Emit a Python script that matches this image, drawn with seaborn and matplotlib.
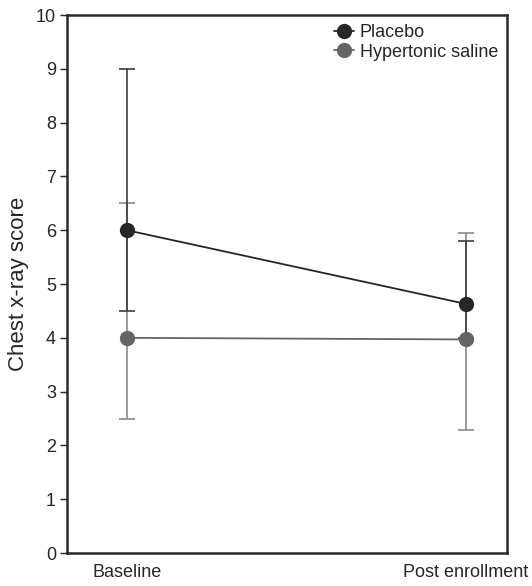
import pandas as pd
import numpy as np
import matplotlib
matplotlib.use('Agg')
import matplotlib.pyplot as plt
import seaborn as sns

# --- Data ---
timepoints = ['Baseline', 'Post enrollment']
groups = ['Placebo', 'Hypertonic saline']

placebo_mean = [6.0, 4.63]
placebo_low = [4.5, 4.0]
placebo_high = [9.0, 5.80]

saline_mean = [4.0, 3.97]
saline_low = [2.5, 2.28]
saline_high = [6.5, 5.95]

COLORS = {'Placebo': '#262626', 'Hypertonic saline': '#646464'}
ERR_COLORS = {'Placebo': '#3c3c3c', 'Hypertonic saline': '#8a8a8a'}

sns.set_theme(style='white')
plt.rcParams['font.family'] = ['Liberation Sans', 'DejaVu Sans']

df = pd.DataFrame({
    'time': [0, 1, 0, 1],
    'score': placebo_mean + saline_mean,
    'group': [groups[0]] * 2 + [groups[1]] * 2,
})

fig = plt.figure(figsize=(5.32, 5.86), dpi=100)
ax = fig.add_axes([0.126, 0.0563, 0.827, 0.918])

# error bars first so the markers sit on top
err = {
    'Placebo': (placebo_mean, placebo_low, placebo_high),
    'Hypertonic saline': (saline_mean, saline_low, saline_high),
}
for g in ['Hypertonic saline', 'Placebo']:
    m, lo, hi = (np.array(v) for v in err[g])
    ax.errorbar([0, 1], m, yerr=[m - lo, hi - m], fmt='none',
                ecolor=ERR_COLORS[g], elinewidth=1.2, capsize=6, capthick=1.2, zorder=2)

sns.lineplot(data=df, x='time', y='score', hue='group', hue_order=groups[::-1],
             palette=COLORS, marker='o', markersize=11, markeredgewidth=0,
             linewidth=1.3, ax=ax, zorder=3, legend=False)

ax.set_xlim(-0.177, 1.121)
ax.set_ylim(0, 10)
ax.set_yticks(range(0, 11))
ax.set_xticks([0, 1])
ax.set_xticklabels(timepoints, fontsize=13)
ax.tick_params(axis='x', length=0, pad=8)
ax.tick_params(axis='y', left=True, direction='out', length=5, width=1, labelsize=13, pad=3)
ax.set_xlabel('')
ax.set_ylabel('Chest x-ray score', fontsize=16, labelpad=5)

for s in ax.spines.values():
    s.set_color('#2a2a2a')
    s.set_linewidth(1.8)

# legend: marker on a short line, no frame
handles = [plt.Line2D([], [], color=COLORS[g], marker='o', markersize=11,
                      markeredgewidth=0, linewidth=1.3) for g in groups]
ax.legend(handles, groups, loc='upper right', bbox_to_anchor=(1.0, 1.0),
          frameon=False, fontsize=13, handlelength=1.1, handletextpad=0.3,
          labelspacing=0.15, borderaxespad=0.1)

fig.savefig('out.png', dpi=100, facecolor='white')
